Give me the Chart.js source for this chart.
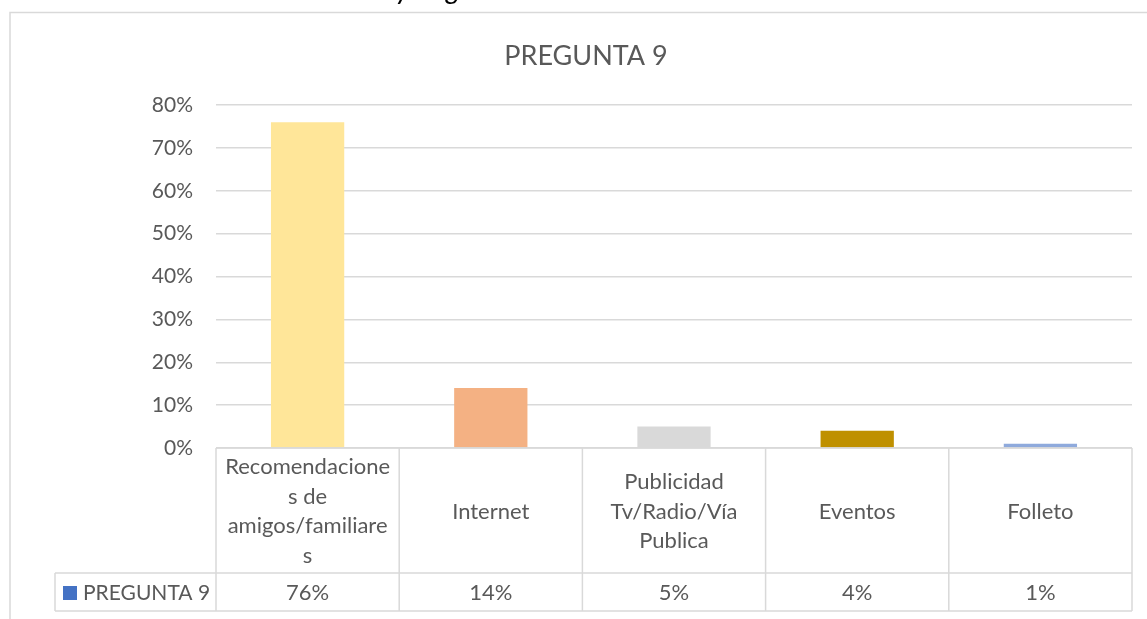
<!DOCTYPE html>
<html>
<head>
<meta charset="utf-8">
<script src="https://cdn.jsdelivr.net/npm/chart.js@4"></script>
<style>
  body { margin: 0; background: #fff; }
  #wrap { width: 1147px; height: 619px; position: relative; }
</style>
</head>
<body>
<div id="wrap"><canvas id="pregunta9Chart"></canvas></div>
<script>
// Datos de la pregunta 9
const serieNombre = 'PREGUNTA 9';
const categorias = [
    ['Recomendacione', 's de', 'amigos/familiare', 's'],
    'Internet',
    ['Publicidad', 'Tv/Radio/Vía', 'Publica'],
    'Eventos',
    'Folleto'
];
const porcentajes = [76, 14, 5, 4, 1];
const coloresBarras = ['#FFE699', '#F4B183', '#D9D9D9', '#BF9000', '#8FAADC'];
const ejeY = [0, 10, 20, 30, 40, 50, 60, 70, 80];

const gris = '#595959';
const lineaTabla = '#D9D9D9';
const fuente = 'Lato, "Open Sans", sans-serif';

// Tabla de datos debajo del gráfico (estilo Excel)
const tablaDatos = {
    id: 'tablaDatos',
    afterDraw(chart) {
        const ctx = chart.ctx;
        const area = chart.chartArea;
        const x = chart.scales.x;
        const n = categorias.length;
        const anchoCol = (area.right - area.left) / n;
        const filaCatFin = area.bottom + 125;
        const filaValFin = filaCatFin + 38;
        const leyendaIzq = 55;

        ctx.save();

        // marco exterior del gráfico
        ctx.strokeStyle = lineaTabla;
        ctx.lineWidth = 1.5;
        ctx.beginPath();
        ctx.moveTo(10, chart.height);
        ctx.lineTo(10, 12.5);
        ctx.lineTo(chart.width, 12.5);
        ctx.stroke();

        // título
        ctx.fillStyle = gris;
        ctx.font = '27px ' + fuente;
        ctx.textAlign = 'center';
        ctx.textBaseline = 'middle';
        ctx.fillText(serieNombre, 586, 56);

        // líneas de la tabla
        ctx.lineWidth = 1.5;
        ctx.beginPath();
        ctx.moveTo(area.left, area.bottom);
        ctx.lineTo(area.right, area.bottom);
        ctx.moveTo(leyendaIzq, filaCatFin);
        ctx.lineTo(area.right, filaCatFin);
        ctx.moveTo(leyendaIzq, filaValFin);
        ctx.lineTo(area.right, filaValFin);
        ctx.moveTo(leyendaIzq, filaCatFin);
        ctx.lineTo(leyendaIzq, filaValFin);
        for (let i = 0; i <= n; i++) {
            const cx = area.left + i * anchoCol;
            ctx.moveTo(cx, area.bottom);
            ctx.lineTo(cx, filaValFin);
        }
        ctx.stroke();

        // nombres de categoría y valores
        ctx.font = '22px ' + fuente;
        ctx.fillStyle = gris;
        const altoLinea = 29.5;
        const medioCat = (area.bottom + filaCatFin) / 2 + 1;
        const medioVal = (filaCatFin + filaValFin) / 2 + 1;
        categorias.forEach((cat, i) => {
            const cx = x.getPixelForValue(i);
            const lineas = Array.isArray(cat) ? cat : [cat];
            const inicio = medioCat - (lineas.length - 1) * altoLinea / 2;
            lineas.forEach((t, k) => ctx.fillText(t, cx, inicio + k * altoLinea));
            ctx.fillText(porcentajes[i] + '%', cx, medioVal);
        });

        // clave de la leyenda
        ctx.fillStyle = '#4472C4';
        ctx.fillRect(63, medioVal - 7, 14, 14);
        ctx.fillStyle = gris;
        ctx.font = '21px ' + fuente;
        ctx.textAlign = 'left';
        ctx.fillText(serieNombre, 83, medioVal);

        ctx.restore();
    }
};

// Texto del documento que queda cortado arriba
const textoSuperior = {
    id: 'textoSuperior',
    afterDraw(chart) {
        const ctx = chart.ctx;
        ctx.save();
        ctx.fillStyle = '#000';
        ctx.font = 'italic 28px ' + fuente;
        ctx.textBaseline = 'alphabetic';
        ctx.fillText('y', 396, -1);
        ctx.fillText('g', 446, -1);
        ctx.restore();
    }
};

const ctxPregunta = document.getElementById('pregunta9Chart').getContext('2d');
const pregunta9Chart = new Chart(ctxPregunta, {
    type: 'bar',
    data: {
        labels: categorias,
        datasets: [{
            label: serieNombre,
            data: porcentajes,
            backgroundColor: coloresBarras,
            borderWidth: 0,
            barPercentage: 0.4,
            categoryPercentage: 1.0
        }]
    },
    options: {
        responsive: true,
        maintainAspectRatio: false,
        animation: false,
        layout: {
            padding: { left: 0, right: 15, top: 105, bottom: 171 }
        },
        scales: {
            x: {
                display: false
            },
            y: {
                min: ejeY[0],
                max: ejeY[ejeY.length - 1],
                afterBuildTicks: (scale) => {
                    scale.ticks = ejeY.map(v => ({ value: v }));
                },
                afterFit: (scale) => { scale.width = 216; },
                border: { display: false },
                grid: {
                    color: lineaTabla,
                    lineWidth: 1.5,
                    drawTicks: false
                },
                ticks: {
                    padding: 23,
                    color: gris,
                    font: { family: fuente, size: 21 },
                    callback: (v) => v + '%'
                }
            }
        },
        plugins: {
            legend: { display: false },
            title: { display: false },
            tooltip: {
                callbacks: {
                    label: function(context) {
                        return context.dataset.label + ': ' + context.raw + '%';
                    }
                }
            }
        }
    },
    plugins: [tablaDatos, textoSuperior]
});
</script>
</body>
</html>
